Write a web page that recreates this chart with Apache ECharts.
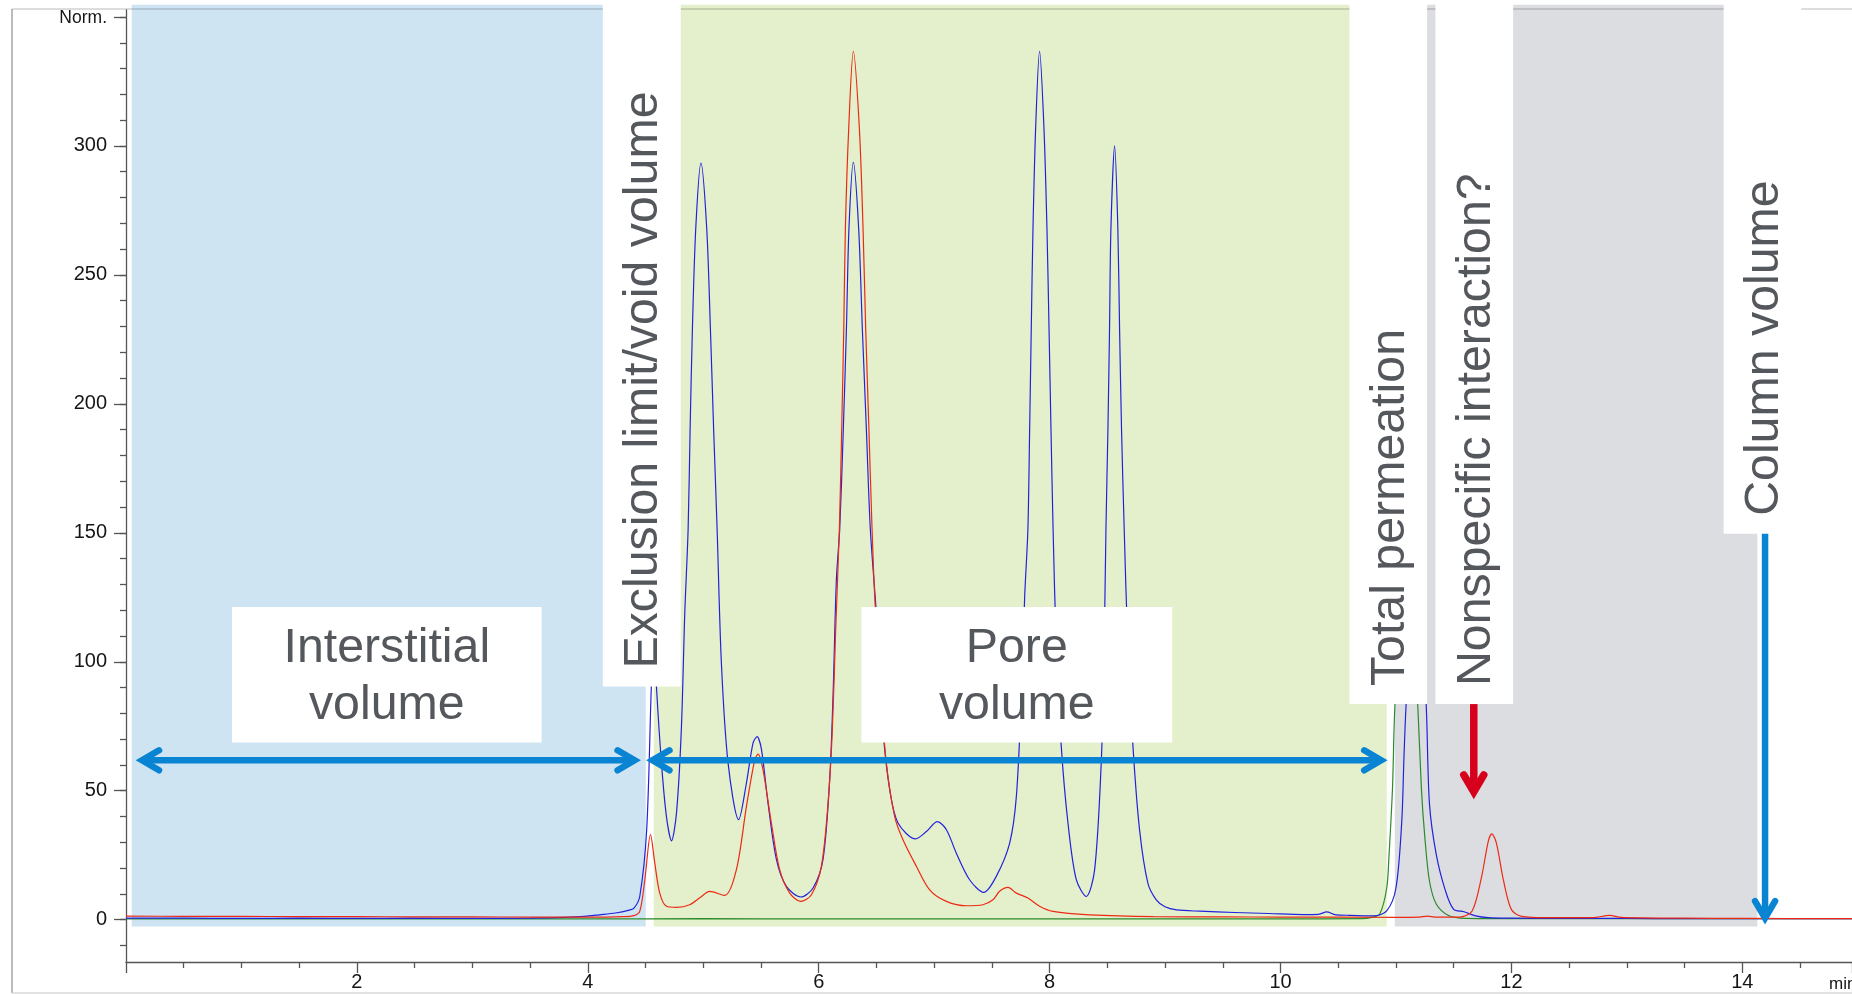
<!DOCTYPE html>
<html>
<head>
<meta charset="utf-8">
<script src="https://cdn.jsdelivr.net/npm/echarts@6/dist/echarts.min.js"></script>
<style>
html,body{margin:0;padding:0;background:#fff;}
#c{width:1852px;height:994px;}
</style>
</head>
<body>
<div id="c"></div>
<script>
// ---------------- data ----------------
const xTickLabels = [2, 4, 6, 8, 10, 12, 14];
const yTickLabels = [0, 50, 100, 150, 200, 250, 300, 350];
const yMinorTicks = [-10, 0, 10, 20, 30, 40, 50, 60, 70, 80, 90, 100, 110, 120, 130, 140, 150, 160, 170, 180, 190, 200,
  210, 220, 230, 240, 250, 260, 270, 280, 290, 300, 310, 320, 330, 340, 350];
const yTopLabel = 'Norm.';
const xUnitLabel = 'min';

const blueTrace = [
  [0, 0.6], [0.5, 0.6], [1.0, 0.5], [1.5, 0.6], [2.0, 0.5], [2.5, 0.6], [3.0, 0.5], [3.5, 0.6], [3.8, 0.9],
  [3.97, 1.3], [4.1, 1.9], [4.24, 2.6], [4.35, 3.6], [4.40, 4.5], [4.45, 9], [4.51, 34.9], [4.55, 90],
  [4.572, 112], [4.595, 90], [4.638, 60.7], [4.681, 40], [4.725, 30.6], [4.768, 41.3], [4.81, 73.6],
  [4.84, 118.9], [4.869, 151.5], [4.886, 190], [4.906, 229], [4.935, 268], [4.98, 293.3], [5.03, 268],
  [5.062, 229], [5.09, 190], [5.12, 151.5], [5.157, 99.5], [5.215, 60.7], [5.307, 38.8], [5.374, 53],
  [5.431, 68.5], [5.466, 71], [5.504, 66], [5.561, 45.2], [5.634, 23.3], [5.72, 12.9], [5.844, 8.8],
  [5.951, 12.3], [6.037, 23.3], [6.095, 54.3], [6.124, 86.6], [6.153, 131.8], [6.182, 151.5], [6.213, 190],
  [6.24, 229], [6.262, 268], [6.30, 293.6], [6.346, 268], [6.378, 229], [6.413, 190], [6.447, 151.5],
  [6.499, 118.9], [6.557, 73.6], [6.615, 50.4], [6.687, 37.5], [6.84, 31.3], [6.933, 34.2], [7.028, 38],
  [7.106, 34.9], [7.192, 25.8], [7.307, 15.5], [7.429, 10.6], [7.538, 16.8], [7.654, 29.7], [7.712, 47.8],
  [7.755, 86.6], [7.784, 125.3], [7.812, 151.5], [7.827, 190], [7.841, 229], [7.856, 268], [7.879, 306.9],
  [7.913, 336.7], [7.951, 306.9], [7.977, 268], [7.995, 229], [8.012, 190], [8.03, 151.5], [8.058, 106],
  [8.101, 67.2], [8.159, 37.5], [8.231, 15.5], [8.318, 9], [8.39, 19.4], [8.447, 60.7], [8.47, 99.5],
  [8.488, 151.5], [8.505, 190], [8.519, 229], [8.531, 268], [8.563, 300], [8.591, 268], [8.606, 229],
  [8.623, 190], [8.646, 151.5], [8.678, 106], [8.722, 67.2], [8.779, 34.9], [8.851, 14.2], [8.924, 7.7],
  [9.0, 5.0], [9.1, 3.8], [9.3, 3.3], [9.6, 2.8], [9.9, 2.4], [10.2, 2.0], [10.33, 2.1], [10.40, 3.0],
  [10.47, 2.0], [10.6, 1.7], [10.81, 1.5], [10.92, 3.4], [11.0, 12.3], [11.05, 38], [11.07, 64], [11.09, 85],
  [11.175, 140], [11.26, 85], [11.29, 45], [11.35, 25], [11.43, 11], [11.50, 4], [11.59, 3.1], [11.69, 1.5],
  [11.8, 0.8], [12.0, 0.6], [12.5, 0.5], [13.0, 0.5], [13.5, 0.4], [14.0, 0.4], [14.5, 0.4], [14.95, 0.4]
];

const redTrace = [
  [0, 1.4], [0.5, 1.3], [1, 1.3], [1.5, 1.2], [2, 1.2], [2.5, 1.1], [3, 1.1], [3.5, 1.0], [4.0, 1.0],
  [4.3, 1.2], [4.40, 1.6], [4.45, 3.2], [4.494, 15.5], [4.543, 33], [4.58, 22], [4.623, 10.3], [4.681, 5.2],
  [4.768, 4.8], [4.883, 5.8], [4.97, 8.5], [5.056, 11], [5.186, 9.4], [5.287, 19.4], [5.374, 43.9],
  [5.446, 62], [5.475, 64.2], [5.518, 58], [5.59, 37.5], [5.662, 19.4], [5.749, 10.3], [5.844, 7.1],
  [5.937, 9.7], [6.023, 20.7], [6.081, 45.2], [6.118, 73.6], [6.147, 112.4], [6.179, 151.5], [6.199, 190],
  [6.217, 229], [6.231, 268], [6.26, 306.9], [6.30, 336.7], [6.352, 306.9], [6.384, 268], [6.407, 229],
  [6.435, 190], [6.462, 151.5], [6.485, 125.3], [6.528, 93], [6.586, 60.7], [6.658, 40], [6.73, 31],
  [6.846, 20.7], [6.961, 11.6], [7.106, 7.1], [7.279, 5.4], [7.423, 5.8], [7.509, 7.7], [7.567, 11],
  [7.639, 12.5], [7.712, 10.3], [7.812, 8.4], [7.913, 5.2], [8.029, 3.2], [8.346, 1.9], [8.9, 1.2],
  [9.5, 1.1], [10.0, 1.0], [10.5, 1.0], [11.0, 0.9], [11.2, 1.0], [11.27, 1.4], [11.35, 1.0], [11.55, 1.0],
  [11.66, 3.4], [11.74, 16.3], [11.80, 30.5], [11.83, 33.3], [11.87, 29.7], [11.93, 15.5], [12.0, 3.9],
  [12.09, 1.3], [12.3, 0.8], [12.7, 0.8], [12.85, 1.7], [12.95, 0.9], [13.5, 0.6], [14.0, 0.5], [14.95, 0.4]
];

const greenTrace = [
  [0, 0.3], [1, 0.3], [2, 0.3], [3, 0.3], [4, 0.3], [5, 0.4], [6, 0.3], [7, 0.3], [8, 0.3], [9, 0.3],
  [10, 0.3], [10.7, 0.4], [10.8, 1.0], [10.86, 2.2], [10.92, 12.3], [10.94, 25.2], [10.97, 51], [10.99, 82],
  [11.09, 160], [11.19, 82], [11.22, 51], [11.25, 32], [11.29, 15], [11.35, 6], [11.46, 1.5], [11.6, 0.5],
  [12, 0.4], [13, 0.4], [14, 0.4], [14.95, 0.4]
];

// ---------------- annotation texts ----------------
const zoneLabels = ['Interstitial\nvolume', 'Pore\nvolume'];
const markerLabels = ['Exclusion limit/void volume', 'Total permeation', 'Nonspecific interaction?', 'Column volume'];

// ---------------- layout / style (not data) ----------------
const X_MIN = 0, X_MAX = 14.95, Y_MIN = -16.4, Y_MAX = 352.7;
const FONT = '"Liberation Sans", Arial, Helvetica, sans-serif';
const BIG = '48.3px ' + FONT;
const AXIS_COLOR = '#555';
const TEXT_GRAY = '#54575b';
const ARROW_BLUE = '#0884d3';
const ARROW_RED = '#d6001c';

const regions = [
  { x0: 0.05, x1: 4.502, color: '#cfe4f3' },
  { x0: 4.571, x1: 10.92, color: '#e4efcc' },
  { x0: 10.99, x1: 14.13, color: '#dcdde0' }
];
const REGION_TOP = 354.7, REGION_BOTTOM = -2.6, BOX_TOP = 357;

const zoneBoxes = [
  { x0: 0.918, x1: 3.60, v0: 68.7, v1: 121.2, label: 0 },
  { x0: 6.369, x1: 9.062, v0: 68.7, v1: 121.2, label: 1 }
];
const markerBoxes = [
  { x0: 4.130, x1: 4.805, vBottom: 90.4, label: 0 },
  { x0: 10.597, x1: 11.270, vBottom: 83.6, label: 1 },
  { x0: 11.342, x1: 12.015, vBottom: 83.6, label: 2 },
  { x0: 13.838, x1: 14.51, vBottom: 149.6, label: 3 }
];
const hArrows = [
  { x0: 0.087, x1: 4.457, v: 61.8 },
  { x0: 4.508, x1: 10.924, v: 61.8 }
];
const vArrows = [
  { x: 11.674, v0: 83.6, v1: 47.2, color: ARROW_RED, width: 7.5 },
  { x: 14.197, v0: 149.6, v1: -1.7, color: ARROW_BLUE, width: 6.5 }
];

const chart = echarts.init(document.getElementById('c'), null, { renderer: 'canvas', width: 1852, height: 994 });

const labelStyle = { fontFamily: FONT, fontSize: 20, color: '#151515' };

const option = {
  animation: false,
  backgroundColor: '#ffffff',
  grid: { left: 126, right: 0, top: 10, bottom: 32, containLabel: false, outerBoundsMode: 'none' },
  xAxis: {
    type: 'value', min: X_MIN, max: X_MAX, interval: 2,
    axisLine: { show: true, onZero: false, lineStyle: { color: AXIS_COLOR, width: 1.3 } },
    axisTick: { show: true, length: 11, lineStyle: { color: AXIS_COLOR, width: 1.3 } },
    minorTick: { show: true, splitNumber: 4, length: 6, lineStyle: { color: AXIS_COLOR, width: 1.3 } },
    axisLabel: Object.assign({ customValues: xTickLabels, margin: 10, formatter: v => String(v) }, labelStyle),
    splitLine: { show: false }, minorSplitLine: { show: false }
  },
  yAxis: [
    {
      type: 'value', min: Y_MIN, max: Y_MAX, position: 'left',
      axisLine: { show: true, onZero: false, lineStyle: { color: AXIS_COLOR, width: 1.3 } },
      axisTick: { show: true, length: 12, customValues: yTickLabels, lineStyle: { color: AXIS_COLOR, width: 1.3 } },
      axisLabel: Object.assign({
        customValues: yTickLabels, margin: 19,
        formatter: v => (v === 350 ? '{n|' + yTopLabel + '}' : String(v)),
        rich: { n: { fontFamily: FONT, fontSize: 17.5, color: '#151515', padding: [3, 0, 0, 0] } }
      }, labelStyle),
      splitLine: { show: false }
    },
    {
      type: 'value', min: Y_MIN, max: Y_MAX, position: 'left',
      axisLine: { show: false },
      axisTick: { show: true, length: 6, customValues: yMinorTicks, lineStyle: { color: AXIS_COLOR, width: 1.3 } },
      axisLabel: { show: false },
      splitLine: { show: false }
    }
  ],
  series: [
    { name: 'green', type: 'line', data: greenTrace, showSymbol: false, smooth: 0.3, z: 3,
      lineStyle: { color: '#2b8a2b', width: 1.2 }, itemStyle: { color: '#2b8a2b' } },
    { name: 'blue', type: 'line', data: blueTrace, showSymbol: false, smooth: 0.3, z: 3,
      lineStyle: { color: '#2222dd', width: 1.2 }, itemStyle: { color: '#2222dd' } },
    { name: 'red', type: 'line', data: redTrace, showSymbol: false, smooth: 0.3, z: 3,
      lineStyle: { color: '#ec2a14', width: 1.2 }, itemStyle: { color: '#ec2a14' } }
  ]
};
chart.setOption(option);

// ---------------- annotations placed through the axes ----------------
const P = (t, v) => chart.convertToPixel({ xAxisIndex: 0, yAxisIndex: 0 }, [t, v]);
const g = [];

// colored zones
regions.forEach(r => {
  const a = P(r.x0, REGION_TOP), b = P(r.x1, REGION_BOTTOM);
  g.push({ type: 'rect', silent: true, z: 0, shape: { x: a[0], y: a[1], width: b[0] - a[0], height: b[1] - a[1] },
    style: { fill: r.color } });
});

// outer frame of the original screenshot
g.push({ type: 'line', silent: true, z: 1, shape: { x1: 12, y1: 9, x2: 1852, y2: 9 }, style: { stroke: 'rgba(0,0,0,0.18)', lineWidth: 1.5 } });
g.push({ type: 'line', silent: true, z: 1, shape: { x1: 12, y1: 9, x2: 12, y2: 993 }, style: { stroke: '#8e8e8e', lineWidth: 1.2 } });
g.push({ type: 'line', silent: true, z: 1, shape: { x1: 12, y1: 993, x2: 1852, y2: 993 }, style: { stroke: '#d8d8d8', lineWidth: 1.5 } });

// horizontal white label boxes
zoneBoxes.forEach(b => {
  const a = P(b.x0, b.v1), c = P(b.x1, b.v0);
  g.push({ type: 'rect', silent: true, z: 10, shape: { x: a[0], y: a[1], width: c[0] - a[0], height: c[1] - a[1] }, style: { fill: '#ffffff' } });
  g.push({ type: 'text', silent: true, z: 11, x: (a[0] + c[0]) / 2, y: (a[1] + c[1]) / 2 + 2,
    style: { text: zoneLabels[b.label], font: BIG, fill: TEXT_GRAY, align: 'center', verticalAlign: 'middle', lineHeight: 57 } });
});

// vertical white label boxes
markerBoxes.forEach(b => {
  const a = P(b.x0, BOX_TOP), c = P(b.x1, b.vBottom);
  g.push({ type: 'rect', silent: true, z: 10, shape: { x: a[0], y: a[1], width: c[0] - a[0], height: c[1] - a[1] }, style: { fill: '#ffffff' } });
  g.push({ type: 'text', silent: true, z: 11, x: (a[0] + c[0]) / 2 + 2, y: c[1] - 18, rotation: Math.PI / 2,
    style: { text: markerLabels[b.label], font: BIG, fill: TEXT_GRAY, align: 'left', verticalAlign: 'middle' } });
});

// chevron helper: tip point, direction unit vector (pointing direction)
function chevron(tip, dir, color, w) {
  const inset = 6, along = 17, lat = 10;
  const vx = tip[0] - dir[0] * inset, vy = tip[1] - dir[1] * inset;
  const nx = -dir[1], ny = dir[0];
  const bx = vx - dir[0] * along, by = vy - dir[1] * along;
  g.push({ type: 'polyline', silent: true, z: 12,
    shape: { points: [[bx + nx * lat, by + ny * lat], [vx, vy], [bx - nx * lat, by - ny * lat]] },
    style: { stroke: color, lineWidth: w, fill: null, lineCap: 'round', lineJoin: 'miter', miterLimit: 10 } });
  return [vx, vy];
}

hArrows.forEach(a => {
  const p0 = P(a.x0, a.v), p1 = P(a.x1, a.v);
  const v0 = chevron(p0, [-1, 0], ARROW_BLUE, 6.5);
  const v1 = chevron(p1, [1, 0], ARROW_BLUE, 6.5);
  g.push({ type: 'line', silent: true, z: 12, shape: { x1: v0[0], y1: v0[1], x2: v1[0], y2: v1[1] },
    style: { stroke: ARROW_BLUE, lineWidth: 6.5 } });
});

vArrows.forEach(a => {
  const p0 = P(a.x, a.v0), p1 = P(a.x, a.v1);
  const v1 = chevron(p1, [0, 1], a.color, a.width);
  g.push({ type: 'line', silent: true, z: 12, shape: { x1: p0[0], y1: p0[1], x2: v1[0], y2: v1[1] },
    style: { stroke: a.color, lineWidth: a.width } });
});

// x unit label at the right end of the axis row
const xu = P(X_MAX, Y_MIN);
g.push({ type: 'text', silent: true, z: 11, x: xu[0] - 23, y: xu[1] + 22,
  style: { text: xUnitLabel, font: '17px ' + FONT, fill: '#151515', align: 'left', verticalAlign: 'middle' } });

chart.setOption({ graphic: { elements: g } });
</script>
</body>
</html>
